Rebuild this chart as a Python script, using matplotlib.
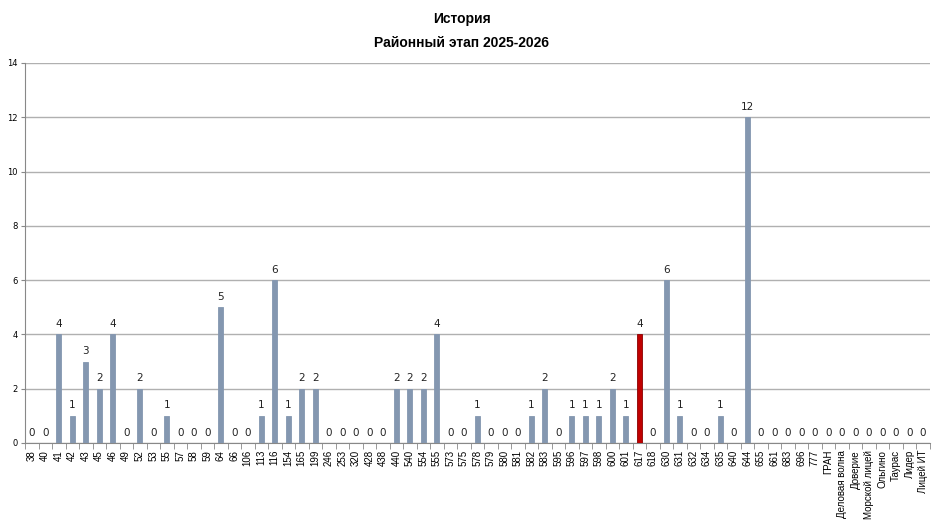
import matplotlib.pyplot as plt
import numpy as np

schools = ["38", "40", "41", "42", "43", "45", "46", "49", "52", "53", "55", "57",
           "58", "59", "64", "66", "106", "113", "116", "154", "165", "199", "246",
           "253", "320", "428", "438", "440", "540", "554", "555", "573", "575",
           "578", "579", "580", "581", "582", "583", "595", "596", "597", "598",
           "600", "601", "617", "618", "630", "631", "632", "634", "635", "640",
           "644", "655", "661", "683", "696", "777", "ГРАН", "Деловая волна",
           "Доверие", "Морской лицей", "Ольгино", "Таурас", "Лидер", "Лицей ИТ"]
counts = [0, 0, 4, 1, 3, 2, 4, 0, 2, 0, 1, 0,
          0, 0, 5, 0, 0, 1, 6, 1, 2, 2, 0,
          0, 0, 0, 0, 2, 2, 2, 4, 0, 0,
          1, 0, 0, 0, 1, 2, 0, 1, 1, 1,
          2, 1, 4, 0, 6, 1, 0, 0, 1, 0,
          12, 0, 0, 0, 0, 0, 0, 0,
          0, 0, 0, 0, 0, 0]
highlight = "617"

plt.rcParams['font.family'] = ['DejaVu Sans']

fig = plt.figure(figsize=(9.4, 5.29), dpi=100)
ax = fig.add_axes([0.0266, 0.1626, 0.9624, 0.7184])

x = np.arange(len(schools))
colors = ['#c00000' if s == highlight else '#8497b0' for s in schools]
edges = ['#8b0000' if s == highlight else '#8497b0' for s in schools]
ax.bar(x, counts, width=0.38, color=colors, edgecolor=edges, linewidth=0.6, zorder=3)

for xi, v in zip(x, counts):
    ax.text(xi, v + 0.2, str(v), ha='center', va='bottom', fontsize=7.5,
            color='#222222', zorder=4)

ax.set_xlim(-0.5, len(schools) - 0.5)
ax.set_ylim(0, 14)
ax.set_yticks(range(0, 15, 2))
ax.yaxis.grid(True, color='#b0b0b0', linewidth=1.0, zorder=0)
ax.tick_params(axis='y', labelsize=6, length=3, color='#888888', pad=2)

ax.set_xticks(x)
ax.set_xticklabels(schools, rotation=90, fontsize=7, family=['Liberation Sans', 'DejaVu Sans'])
ax.tick_params(axis='x', length=0, pad=5)
ax.set_xticks(np.arange(-0.5, len(schools), 1), minor=True)
ax.tick_params(axis='x', which='minor', length=4, color='#888888')

for side in ['top', 'right']:
    ax.spines[side].set_visible(False)
ax.spines['left'].set_color('#888888')
ax.spines['bottom'].set_color('#888888')

title_font = ['Liberation Sans', 'DejaVu Sans']
fig.text(0.491, 0.964, "История", ha='center', va='center', fontsize=10,
         fontweight='bold', family=title_font)
fig.text(0.491, 0.919, "Районный этап 2025-2026", ha='center', va='center',
         fontsize=10, fontweight='bold', family=title_font)

fig.savefig("out.png", dpi=100)
